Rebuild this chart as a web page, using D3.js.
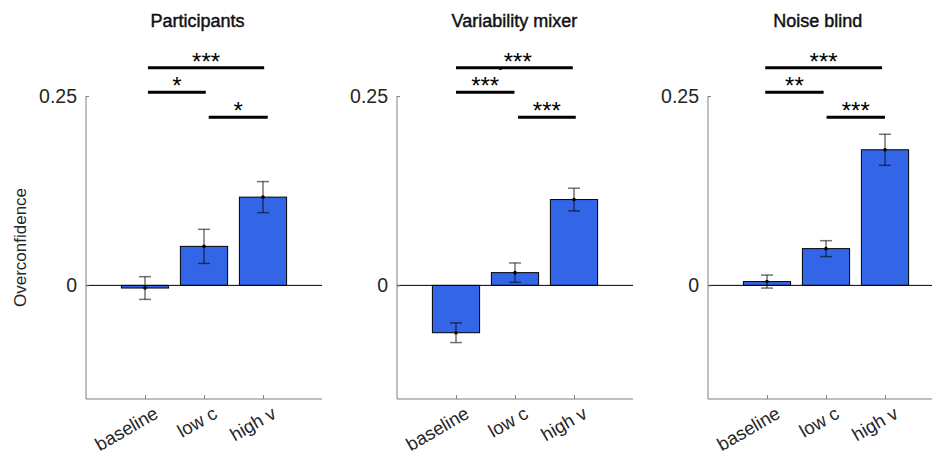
<!DOCTYPE html>
<html lang="en">
<head>
<meta charset="UTF-8">
<title>Overconfidence</title>
<script src="https://d3js.org/d3.v7.min.js"></script>
<style>
  body { margin: 0; background: #fff; }
  svg text { font-family: "Liberation Sans", Arial, sans-serif; fill: #262626; }
  .title { font-family: "Liberation Sans", Arial, sans-serif; fill: #111; stroke: #111; stroke-width: 0.45px; }
</style>
</head>
<body>
<script>
// data
const categories = ["baseline", "low c", "high v"]
const panelTitles = ["Participants", "Variability mixer", "Noise blind"]
const meansParticipants = [-0.0035, 0.0515, 0.1165]
const seParticipants = [0.015, 0.0225, 0.0205]
const meansMixer = [-0.0625, 0.0168, 0.1133]
const seMixer = [0.013, 0.0128, 0.015]
const meansBlind = [0.005, 0.0485, 0.179]
const seBlind = [0.0086, 0.0105, 0.0205]
const yTicks = [0, 0.25]
// significance brackets: labels, heights, spans (category units)
const sigLabels = [["***", "*", "*"], [".***", "***", "***"], ["***", "**", "***"]]
const sigHeights = [0.2874, 0.2549, 0.2218]
const sigSpans = [
    [[1.05, 3.02], [1.05, 2.03], [2.08, 3.08]],
    [[1.0, 2.98], [1.0, 1.99], [2.05, 3.03]],
    [[0.97, 2.95], [0.97, 1.96], [2.01, 3.0]]
]

const panels = [
    { means: meansParticipants, se: seParticipants },
    { means: meansMixer, se: seMixer },
    { means: meansBlind, se: seBlind }
]

const width = 932, height = 455
const panelLeft = [86, 397, 708]
const panelW = 236
const plotTop = 96, plotBottom = 399
const titleCenter = [1.89, 1.99, 1.86]

const svg = d3.select("body").append("svg")
    .attr("width", width)
    .attr("height", height)

const y = d3.scaleLinear().domain([-0.15, 0.25]).range([plotBottom, plotTop])

panels.forEach(function (p, k) {
    const x = d3.scaleLinear().domain([0, 4]).range([panelLeft[k], panelLeft[k] + panelW])
    const g = svg.append("g")
    const barW = x(0.8) - x(0)

    // bars
    g.selectAll("rect.bar")
        .data(p.means)
        .enter()
        .append("rect")
        .attr("class", "bar")
        .attr("x", (d, i) => x(i + 1) - barW / 2)
        .attr("width", barW)
        .attr("y", d => Math.min(y(d), y(0)))
        .attr("height", d => Math.abs(y(d) - y(0)))
        .attr("fill", "#3366e6")
        .attr("stroke", "#000")
        .attr("stroke-width", 1)

    // zero line
    g.append("line")
        .attr("x1", x(0)).attr("x2", x(4))
        .attr("y1", y(0)).attr("y2", y(0))
        .attr("stroke", "#000").attr("stroke-width", 1)

    // error bars
    const eb = g.selectAll("g.eb")
        .data(p.means)
        .enter()
        .append("g")
        .attr("stroke", "#000")
        .attr("stroke-opacity", 0.55)
        .attr("stroke-width", 1.5)
    eb.append("line")
        .attr("x1", (d, i) => x(i + 1)).attr("x2", (d, i) => x(i + 1))
        .attr("y1", (d, i) => y(d - p.se[i])).attr("y2", (d, i) => y(d + p.se[i]))
    eb.append("line")
        .attr("x1", (d, i) => x(i + 1) - 6).attr("x2", (d, i) => x(i + 1) + 6)
        .attr("y1", (d, i) => y(d - p.se[i])).attr("y2", (d, i) => y(d - p.se[i]))
    eb.append("line")
        .attr("x1", (d, i) => x(i + 1) - 6).attr("x2", (d, i) => x(i + 1) + 6)
        .attr("y1", (d, i) => y(d + p.se[i])).attr("y2", (d, i) => y(d + p.se[i]))
    g.selectAll("circle.mean")
        .data(p.means)
        .enter()
        .append("circle")
        .attr("cx", (d, i) => x(i + 1))
        .attr("cy", d => y(d))
        .attr("r", 1.8)
        .attr("fill", "#000")

    // axes
    const yAxis = g.append("g")
        .attr("transform", `translate(${x(0)},0)`)
        .call(d3.axisRight(y).tickValues(yTicks).tickSize(3).tickFormat(""))
    yAxis.selectAll("path, line").attr("stroke", "#808080")
    yAxis.select(".domain").attr("d", `M0,${plotTop}V${plotBottom}`)

    g.selectAll("text.ytick")
        .data(yTicks)
        .enter()
        .append("text")
        .attr("x", x(0) - 9)
        .attr("y", d => y(d))
        .attr("dy", "0.36em")
        .attr("text-anchor", "end")
        .style("font-size", "19.5px")
        .text(d => d === 0 ? "0" : d3.format(".2f")(d))

    const xAxis = g.append("g")
        .attr("transform", `translate(0,${plotBottom})`)
        .call(d3.axisTop(x).tickValues([1, 2, 3]).tickSize(4).tickFormat(""))
    xAxis.selectAll("path, line").attr("stroke", "#808080")
    xAxis.select(".domain").attr("d", `M${x(0)},0H${x(4)}`)

    g.selectAll("text.xtick")
        .data(categories)
        .enter()
        .append("text")
        .attr("transform", (d, i) => `translate(${x(i + 1) + 14.5},${plotBottom + 18}) rotate(-30)`)
        .attr("text-anchor", "end")
        .style("font-size", "18.5px")
        .text(d => d)

    // title
    g.append("text")
        .attr("class", "title")
        .attr("x", x(titleCenter[k]))
        .attr("y", 27)
        .attr("text-anchor", "middle")
        .style("font-size", "18px")
        .text(panelTitles[k])

    // significance
    sigSpans[k].forEach(function (s, j) {
        g.append("line")
            .attr("x1", x(s[0])).attr("x2", x(s[1]))
            .attr("y1", y(sigHeights[j])).attr("y2", y(sigHeights[j]))
            .attr("stroke", "#000").attr("stroke-width", 3)
        g.append("text")
            .attr("x", x((s[0] + s[1]) / 2))
            .attr("y", y(sigHeights[j]) + 2)
            .attr("text-anchor", "middle")
            .style("font-size", "24px")
            .style("fill", "#000")
            .text(sigLabels[k][j])
    })
})

svg.append("text")
    .attr("transform", `translate(26,${(plotTop + plotBottom) / 2}) rotate(-90)`)
    .attr("text-anchor", "middle")
    .style("font-size", "17px")
    .text("Overconfidence")
</script>
</body>
</html>
